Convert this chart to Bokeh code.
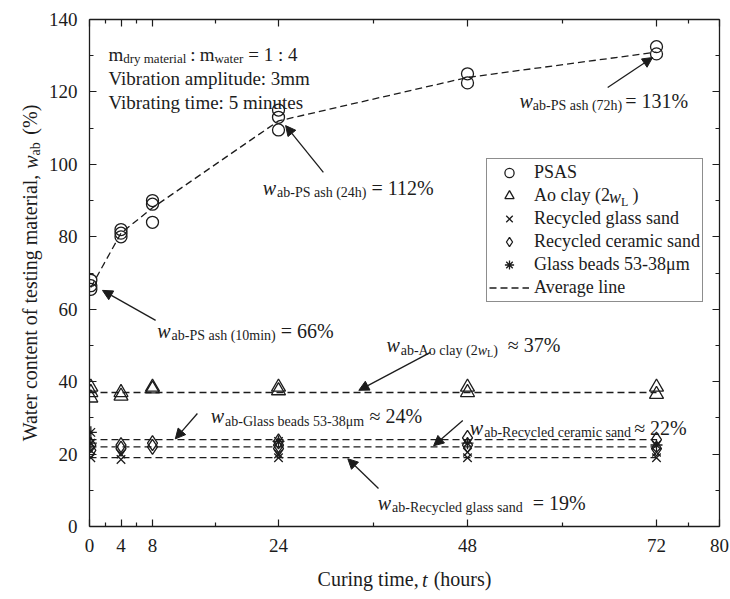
import math
from bokeh.plotting import figure
from bokeh.models import (Range1d, LinearAxis, FixedTicker, Label, Arrow, NormalHead,
                          Legend, LegendItem)
from bokeh.embed import file_html
from bokeh.resources import INLINE

FONT = "Liberation Serif"
INK = "#1c1c1c"
NB = "\u00a0"

# ---------------- data ----------------
psas_t = [0.17, 0.17, 0.17, 4, 4, 4, 8, 8, 8, 24, 24, 24, 48, 48, 72, 72]
psas_w = [65.5, 66.5, 68, 80, 81, 82, 84, 89, 90, 109.5, 113, 115, 122.5, 125, 130.5, 132.5]
psas_avg_t = [0.17, 4, 8, 24, 48, 72]
psas_avg_w = [66, 81, 88, 112, 124, 131]

ao_t = [0.17, 0.17, 0.17, 4, 4, 8, 8, 24, 24, 48, 48, 72, 72]
ao_w = [35.5, 37, 38.5, 36, 37, 38, 38.5, 37.5, 38.5, 37, 38.5, 36.5, 38.5]

glass_t = [0.17, 0.17, 4, 4, 24, 24, 48, 48, 72, 72]
glass_w = [19, 21, 18.5, 20, 19, 20, 19, 20.5, 19, 20.5]

ceramic_t = [0.17, 0.17, 4, 4, 8, 8, 24, 24, 24, 48, 48, 72, 72]
ceramic_w = [21, 22.5, 21.5, 22.5, 22, 23, 21.5, 22.5, 23.5, 22.5, 24.5, 21.5, 24]

beads_t = [0.17, 0.17, 24, 48, 72]
beads_w = [23, 26, 23.5, 23, 22.5]

avg_span_t = [0, 72]
ao_avg, beads_avg, ceramic_avg, glass_avg = 37, 24, 22, 19

x_major = [0, 4, 8, 24, 48, 72, 80]
x_minor = [2, 6, 16, 36, 60, 76]
y_major = [0, 20, 40, 60, 80, 100, 120, 140]
y_minor = [10, 30, 50, 70, 90, 110, 130]

# ---------------- text width helper (Times metrics) ----------------
W_REG = {' ': 250, NB: 250, '%': 833, '(': 333, ')': 333, ',': 250, '-': 333, '.': 250,
         ':': 278, '=': 564, '\u2248': 549, '\u03bc': 500,
         'A': 722, 'G': 722, 'L': 611, 'P': 556, 'R': 667, 'S': 556, 'V': 722, 'W': 944,
         'a': 444, 'b': 500, 'c': 444, 'd': 500, 'e': 444, 'f': 333, 'g': 500, 'h': 500,
         'i': 278, 'l': 278, 'm': 778, 'n': 500, 'o': 500, 'p': 500, 'r': 333, 's': 389,
         't': 278, 'u': 500, 'w': 722, 'y': 500}
W_IT = {'w': 667, 't': 278, 'L': 556}


def text_width(s, size, italic=False):
    tot = 0
    for ch in s:
        if italic and ch in W_IT:
            tot += W_IT[ch]
        else:
            tot += W_REG.get(ch, 500)
    return tot / 1000.0 * size


p = figure(width=730, height=599, x_range=Range1d(0, 80), y_range=Range1d(0, 140),
           output_backend="svg", toolbar_location=None,
           min_border_left=89, min_border_right=11, min_border_top=19, min_border_bottom=73)
p.xgrid.visible = False
p.ygrid.visible = False
p.outline_line_color = None
p.background_fill_color = "white"


def mklabel(x, y, text, size, italic=False, xo=0.0, yo=0.0, angle=0.0, baseline="alphabetic"):
    return Label(x=x, y=y, x_offset=xo, y_offset=yo, text=text, text_font=FONT,
                 text_font_size=f"{size}px",
                 text_font_style="italic" if italic else "normal",
                 text_baseline=baseline, text_align="left", angle=angle,
                 text_color=INK)


def rich(x, y, parts):
    off = 0.0
    for text, size, italic, dy, gap in parts:
        off += gap
        p.add_layout(mklabel(x, y, text, size, italic, xo=off, yo=-dy))
        off += text_width(text, size, italic)


# ---------------- axes ----------------
def style_axis(ax, ticker, labels=True):
    ax.ticker = ticker
    ax.axis_line_color = INK
    ax.axis_line_width = 1.3
    ax.major_tick_line_color = INK
    ax.minor_tick_line_color = INK
    ax.major_tick_line_width = 1.2
    ax.minor_tick_line_width = 1.2
    ax.major_tick_in = 7
    ax.major_tick_out = 0
    ax.minor_tick_in = 4
    ax.minor_tick_out = 0
    if labels:
        ax.major_label_text_font = FONT
        ax.major_label_text_font_size = "19px"
        ax.major_label_text_color = INK
        ax.major_label_standoff = 12
        ax.axis_label_text_font = FONT
        ax.axis_label_text_font_size = "20px"
        ax.axis_label_text_font_style = "normal"
        ax.axis_label_text_color = INK
    else:
        ax.major_label_text_font_size = "0px"
        ax.major_label_text_color = None
        ax.major_label_standoff = 0
        ax.axis_label = None


x_bottom = p.xaxis[0]
y_left = p.yaxis[0]
style_axis(x_bottom, FixedTicker(ticks=x_major, minor_ticks=x_minor))
style_axis(y_left, FixedTicker(ticks=y_major, minor_ticks=y_minor))
x_top = LinearAxis()
y_right = LinearAxis()
style_axis(x_top, FixedTicker(ticks=x_major, minor_ticks=x_minor), labels=False)
style_axis(y_right, FixedTicker(ticks=y_major, minor_ticks=y_minor), labels=False)
p.add_layout(x_top, "above")
p.add_layout(y_right, "right")

# axis titles: plain part on the axis, italic / subscript parts as labels in side panels
Y_STANDOFF = 5
NSLOT = 8
x_bottom.axis_label = "Curing time," + NB * 3 + "(hours)"
x_bottom.axis_label_standoff = 13
y_left.axis_label = "Water content of testing material," + NB * NSLOT + "(%)"
y_left.axis_label_standoff = Y_STANDOFF

FX0, FX1, FY0, FY1 = 89.0, 716.0, 19.0, 526.0
pxu = (FX1 - FX0) / 80.0
pyu = (FY1 - FY0) / 140.0
xc = (FX0 + FX1) / 2
yc = (FY0 + FY1) / 2
# x title: the italic t
xl = "Curing time,"
Lx = text_width(xl, 20) + 3 * text_width(NB, 20) + text_width("(hours)", 20)
t_px = xc - Lx / 2 + text_width(xl, 20) + text_width(NB, 20)
p.add_layout(mklabel((t_px - FX0) / pxu, (FY1 - 579) / pyu, "t", 20, True), "right")
# y title: italic w and subscript ab
yl = "Water content of testing material,"
Ly = text_width(yl, 20) + NSLOT * text_width(NB, 20) + text_width("(%)", 20)
w_py = yc + Ly / 2 - text_width(yl, 20) - text_width(NB, 20)
ab_py = w_py - text_width("w", 20, True)
base_x = 31.0 - (Y_STANDOFF - 5)
p.add_layout(mklabel((base_x - FX0) / pxu, (FY1 - w_py) / pyu, "w", 20, True,
                     angle=math.pi / 2), "above")
p.add_layout(mklabel((base_x + 4.5 - FX0) / pxu, (FY1 - ab_py) / pyu, "ab", 14,
                     angle=math.pi / 2), "left")

# ---------------- marks ----------------
dash = "7 4"
avg_r = p.line(psas_avg_t, psas_avg_w, line_color=INK, line_width=1.3, line_dash=dash)
for v in (ao_avg, beads_avg, ceramic_avg, glass_avg):
    p.line(avg_span_t, [v, v], line_color=INK, line_width=1.3, line_dash=dash)

mk = dict(line_color=INK, line_width=1.3, fill_color=None)
r_psas = p.scatter(psas_t, psas_w, marker="circle", size=12, **mk)
r_ao = p.scatter(ao_t, ao_w, marker="triangle", size=14, **mk)
r_glass = p.scatter(glass_t, glass_w, marker="x", size=12, **mk)
r_cer = p.scatter(ceramic_t, ceramic_w, marker="diamond", size=15, **mk)
r_beads = p.scatter(beads_t, beads_w, marker="asterisk", size=12, **mk)

LEG_X, LEG_Y, LEG_PAD = 397, 224, 2
legend = Legend(items=[
    LegendItem(label="PSAS", renderers=[r_psas]),
    LegendItem(label="Ao clay (2" + NB * 5 + ")", renderers=[r_ao]),
    LegendItem(label="Recycled glass sand", renderers=[r_glass]),
    LegendItem(label="Recycled ceramic sand", renderers=[r_cer]),
    LegendItem(label="Glass beads 53-38\u03bcm", renderers=[r_beads]),
    LegendItem(label="Average line", renderers=[avg_r]),
], location=(LEG_X, LEG_Y), label_text_font=FONT, label_text_font_size="18px",
    label_text_color=INK, glyph_width=40, glyph_height=23, label_height=21,
    label_standoff=5, spacing=0, padding=LEG_PAD, margin=0,
    border_line_color=INK, border_line_width=1.2, background_fill_color=None,
    background_fill_alpha=0.0)
p.add_layout(legend, "center")

# w and L of "(2w_L)" inside the legend
leg_h = 2 * LEG_PAD + 6 * 23
leg_top = FY1 - LEG_Y - leg_h
row1_y = leg_top + LEG_PAD + 23 + 11.5
txt_x = FX0 + LEG_X + LEG_PAD + 40 + 5 + text_width("Ao clay (2", 18) - 3
p.add_layout(mklabel((txt_x - FX0) / pxu, (FY1 - row1_y) / pyu, "w", 18, True,
                     baseline="middle"))
p.add_layout(mklabel((txt_x + text_width("w", 18, True) - FX0) / pxu,
                     (FY1 - row1_y - 5) / pyu, "L", 12, baseline="middle"))

# ---------------- annotation texts ----------------
M, S, SS = 20, 14, 10
DS = 5
rich(2.4, 130.4, [("m", 19, False, 0, 0), ("dry material", 13, False, 4, 0),
                  (":", 19, False, 0, 4), ("m", 19, False, 0, 4), ("water", 13, False, 4, 0),
                  ("= 1 : 4", 19, False, 0, 5)])
rich(2.4, 123.7, [("Vibration amplitude: 3mm", 19, False, 0, 0)])
rich(2.4, 117.1, [("Vibrating time: 5 minutes", 19, False, 0, 0)])

rich(54.6, 117.6, [("w", M, True, 0, 0), ("ab-PS ash (72h)", S, False, DS, 0),
                   ("= 131%", M, False, 0, 3)])
rich(22.0, 93.6, [("w", M, True, 0, 0), ("ab-PS ash (24h)", S, False, DS, 1),
                  ("= 112%", M, False, 0, 5)])
rich(8.6, 54.1, [("w", M, True, 0, 0), ("ab-PS ash (10min)", S, False, DS, 1),
                 ("= 66%", M, False, 0, 5)])
rich(37.7, 50.0, [("w", M, True, 0, 0), ("ab-Ao clay (2", S, False, DS, 1),
                  ("w", S, True, DS, 0), ("L", SS, False, DS + 3, 0), (")", S, False, DS, 0),
                  ("\u2248 37%", M, False, 0, 10)])
rich(15.4, 30.4, [("w", M, True, 0, 0), ("ab-Glass beads 53-38\u03bcm", S, False, DS, 1),
                  ("\u2248 24%", M, False, 0, 6)])
rich(48.3, 27.3, [("w", M, True, 0, 0), ("ab-Recycled ceramic sand", S, False, DS, 1),
                  ("\u2248 22%", M, False, 0, 3)])
rich(36.6, 6.6, [("w", M, True, 0, 0), ("ab-Recycled glass sand", S, False, DS, 1),
                 ("= 19%", M, False, 0, 10)])

# ---------------- arrows ----------------
arrows = [((65.8, 121.2), (71.5, 129.5)),
          ((29.7, 97.8), (24.9, 110.7)),
          ((8.4, 56.9), (1.65, 65.2)),
          ((43.3, 48.1), (34.2, 37.6)),
          ((13.7, 31.2), (10.9, 24.2)),
          ((47.4, 29.3), (43.7, 22.3)),
          ((36.7, 10.5), (32.8, 18.7))]
for (xs, ys), (xe, ye) in arrows:
    p.add_layout(Arrow(end=NormalHead(size=10, fill_color=INK, line_color=INK, line_width=1),
                       x_start=xs, y_start=ys, x_end=xe, y_end=ye,
                       line_color=INK, line_width=1.3))

open("out.html", "w").write(file_html(p, INLINE))
